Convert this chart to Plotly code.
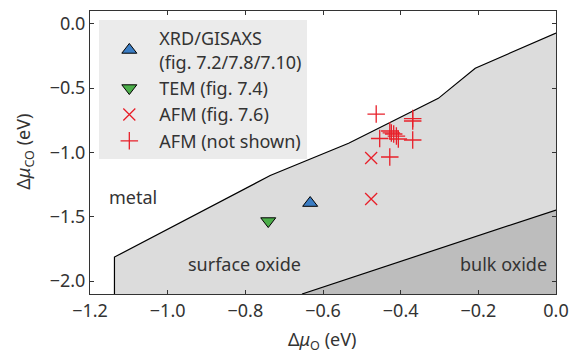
import plotly.graph_objects as go

# Phase boundaries
surf_x = [-1.137, -1.137, -0.736, -0.534, -0.303, -0.208, 0.0]
surf_y = [-2.1, -1.813, -1.179, -0.928, -0.579, -0.345, -0.071]
bulk_x = [-0.654, 0.0]
bulk_y = [-2.1, -1.447]

# Data points
xrd_x = [-0.633]
xrd_y = [-1.393]
tem_x = [-0.741]
tem_y = [-1.533]
afm76_x = [-0.476, -0.476]
afm76_y = [-1.043, -1.362]
afmns_x = [-0.463, -0.454, -0.428, -0.424, -0.418, -0.411, -0.406, -0.428, -0.369, -0.369, -0.369]
afmns_y = [-0.701, -0.891, -0.833, -0.848, -0.856, -0.872, -0.895, -1.035, -0.736, -0.755, -0.903]

# Region labels
label_text = ["metal", "surface oxide", "bulk oxide"]
label_x = [-1.088, -0.803, -0.134]
label_y = [-1.346, -1.867, -1.867]

xtick_vals = [-1.2, -1.0, -0.8, -0.6, -0.4, -0.2, 0.0]
xtick_text = ["\u22121.2", "\u22121.0", "\u22120.8", "\u22120.6", "\u22120.4", "\u22120.2", "0.0"]
ytick_vals = [-2.0, -1.5, -1.0, -0.5, 0.0]
ytick_text = ["\u22122.0", "\u22121.5", "\u22121.0", "\u22120.5", "0.0"]

XMIN, XMAX = -1.2, 0.0
YMIN, YMAX = -2.1, 0.1

FONT = "Noto Sans"
FS = 18
TXT = "#333333"
RED = "#e8202a"

fig = go.Figure()

# surface oxide fill
fig.add_trace(go.Scatter(
    x=surf_x + [XMAX, surf_x[0]], y=surf_y + [YMIN, YMIN],
    fill="toself", fillcolor="#dcdcdc", line=dict(width=0),
    mode="lines", showlegend=False, hoverinfo="skip"))
# bulk oxide fill
fig.add_trace(go.Scatter(
    x=bulk_x + [XMAX, bulk_x[0]], y=bulk_y + [YMIN, YMIN],
    fill="toself", fillcolor="#bdbdbd", line=dict(width=0),
    mode="lines", showlegend=False, hoverinfo="skip"))
# boundary lines
fig.add_trace(go.Scatter(x=surf_x, y=surf_y, mode="lines",
                         line=dict(color="black", width=1.2),
                         showlegend=False, hoverinfo="skip"))
fig.add_trace(go.Scatter(x=bulk_x, y=bulk_y, mode="lines",
                         line=dict(color="black", width=1.2),
                         showlegend=False, hoverinfo="skip"))

fig.add_trace(go.Scatter(
    x=xrd_x, y=xrd_y, mode="markers", name="XRD/GISAXS<br>(fig. 7.2/7.8/7.10)",
    marker=dict(symbol="triangle-up", size=13, color="#3b7dc4",
                line=dict(color="black", width=1))))
fig.add_trace(go.Scatter(
    x=tem_x, y=tem_y, mode="markers", name="TEM (fig. 7.4)",
    marker=dict(symbol="triangle-down", size=13, color="#4caf4a",
                line=dict(color="black", width=1))))
fig.add_trace(go.Scatter(
    x=afm76_x, y=afm76_y, mode="markers", name="AFM (fig. 7.6)",
    marker=dict(symbol="x-thin", size=12, color=RED,
                line=dict(color=RED, width=1.3))))
fig.add_trace(go.Scatter(
    x=afmns_x, y=afmns_y, mode="markers", name="AFM (not shown)",
    marker=dict(symbol="cross-thin", size=12.5, color=RED,
                line=dict(color=RED, width=1.3))))

for t, x, y in zip(label_text, label_x, label_y):
    fig.add_annotation(x=x, y=y, text=t, showarrow=False,
                       font=dict(family=FONT, size=FS, color=TXT))

# axis titles
fig.add_annotation(xref="paper", yref="paper", x=0.4985, y=-0.163,
                   xanchor="center", yanchor="middle",
                   text="\u0394<i>\u03bc</i><sub>O</sub> (eV)", showarrow=False,
                   font=dict(family=FONT, size=FS, color=TXT))
fig.add_annotation(xref="paper", yref="paper", x=-0.14, y=0.502, textangle=-90,
                   xanchor="center", yanchor="middle",
                   text="\u0394<i>\u03bc</i><sub>CO</sub> (eV)", showarrow=False,
                   font=dict(family=FONT, size=FS, color=TXT))

axis_common = dict(
    showgrid=False, zeroline=False, showline=True, linecolor="#333333",
    linewidth=1, mirror="ticks", ticks="inside", ticklen=4,
    tickcolor="#333333", tickfont=dict(family=FONT, size=FS, color=TXT),
    automargin=False,
)

fig.update_xaxes(range=[XMIN, XMAX], tickvals=xtick_vals, ticktext=xtick_text,
                 **axis_common)
fig.update_yaxes(range=[YMIN, YMAX], tickvals=ytick_vals, ticktext=ytick_text,
                 **axis_common)

fig.update_layout(
    width=569, height=354,
    margin=dict(l=90, r=13, t=11, b=60),
    plot_bgcolor="white", paper_bgcolor="white",
    legend=dict(x=0.02, y=0.968, xanchor="left", yanchor="top",
                bgcolor="#ebebeb", borderwidth=0,
                font=dict(family=FONT, size=FS, color=TXT),
                itemwidth=50),
)

fig.write_html("out.html")
